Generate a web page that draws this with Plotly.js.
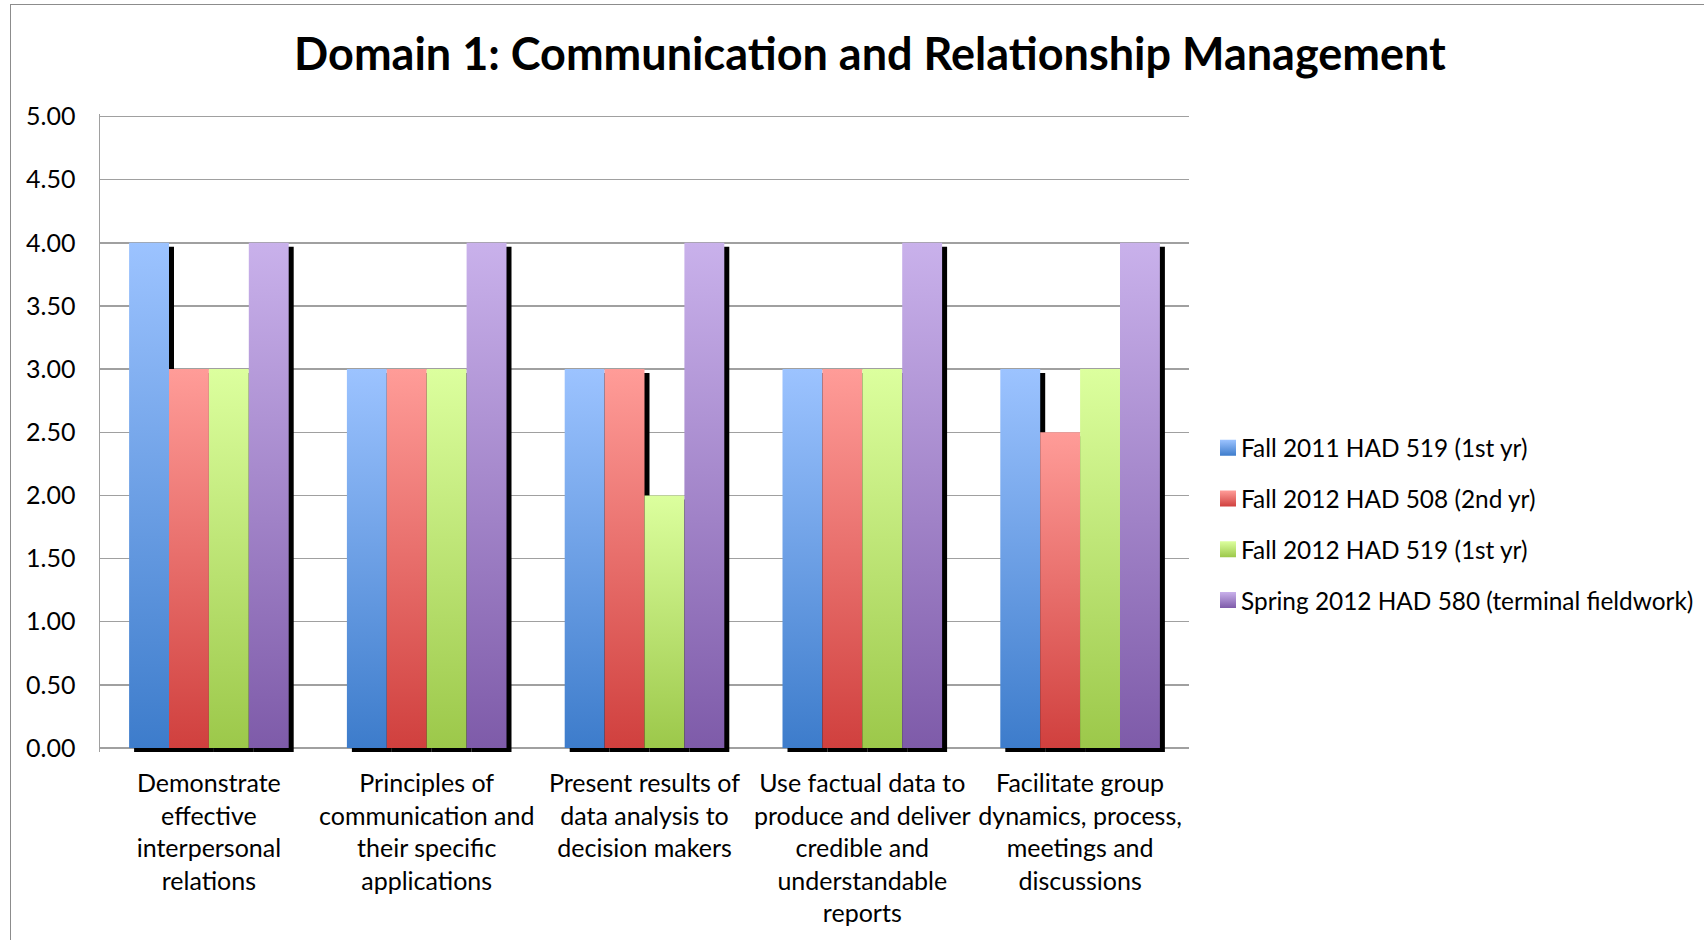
<!DOCTYPE html>
<html>
<head>
<meta charset="utf-8">
<script src="https://cdn.plot.ly/plotly-3.0.1.min.js"></script>
<style>
  html, body { margin: 0; padding: 0; background: #fff; }
  #wrap { position: relative; width: 1704px; height: 940px; overflow: hidden; }
  #chart { width: 1704px; height: 940px; }
  #frame { position: absolute; left: 10px; top: 4px; width: 1720px; height: 960px;
           border-left: 1.5px solid #8c8c8c; border-top: 1.5px solid #8c8c8c; pointer-events: none; }
</style>
</head>
<body>
<div id="wrap">
  <div id="chart"></div>
  <div id="frame"></div>
</div>
<script>
// ---- data ----
var categories = [
  "Demonstrate<br>effective<br>interpersonal<br>relations",
  "Principles of<br>communication and<br>their specific<br>applications",
  "Present results of<br>data analysis to<br>decision makers",
  "Use factual data to<br>produce and deliver<br>credible and<br>understandable<br>reports",
  "Facilitate group<br>dynamics, process,<br>meetings and<br>discussions"
];
var seriesNames = [
  "Fall 2011 HAD 519 (1st yr)",
  "Fall 2012 HAD 508 (2nd yr)",
  "Fall 2012 HAD 519 (1st yr)",
  "Spring 2012 HAD 580 (terminal fieldwork)"
];
var fall2011_519 = [4, 3, 3, 3, 3];
var fall2012_508 = [3, 3, 3, 3, 2.5];
var fall2012_519 = [3, 3, 2, 3, 3];
var spring2012_580 = [4, 4, 4, 4, 4];
var yTickVals = [0, 0.5, 1, 1.5, 2, 2.5, 3, 3.5, 4, 4.5, 5];

// ---- styling ----
var seriesValues = [fall2011_519, fall2012_508, fall2012_519, spring2012_580];
var gradients = [
  ["#9cc3ff", "#3d7ccb"],
  ["#ff9c98", "#d0403e"],
  ["#dcff9e", "#9cc84a"],
  ["#c9b1eb", "#7e5ba9"]
];
var FONT = "Lato, 'Open Sans', sans-serif";
var plotW = 1089;           // px width of plot area
var catPx = plotW / 5;      // px per category
var barW = 39.9 / catPx;    // bar width in category units
var shadowDx = 5 / catPx;   // shadow offset right
var yRange = [-0.0317, 5.02];
var zeroPx = 747.7, fivePx = 116.3;
var pxPerUnit = (zeroPx - fivePx) / 5;
var topPx = fivePx - (yRange[1] - 5) * pxPerUnit;
var botPx = zeroPx - yRange[0] * pxPerUnit;
var shadowDy = 4 / pxPerUnit;

var traces = [];
// shadows first (drawn underneath)
seriesValues.forEach(function (vals, i) {
  traces.push({
    type: "bar", x: categories, y: vals,
    base: -shadowDy,
    width: barW, offset: -2 * barW + i * barW + shadowDx,
    marker: { color: "#000000", line: { width: 0 } },
    showlegend: false, hoverinfo: "skip"
  });
});
seriesValues.forEach(function (vals, i) {
  traces.push({
    type: "bar", name: seriesNames[i], x: categories, y: vals,
    width: barW, offset: -2 * barW + i * barW,
    marker: { color: gradients[i][1], line: { width: 0 } },
    legendgroup: "g" + i
  });
});

var layout = {
  width: 1704, height: 940,
  paper_bgcolor: "#ffffff", plot_bgcolor: "#ffffff",
  margin: { l: 100, r: 1704 - 100 - plotW, t: topPx, b: 940 - botPx },
  barmode: "overlay",
  font: { family: FONT, color: "#000000", size: 25 },
  title: {
    text: "<b>Domain 1: Communication and Relationship Management</b>",
    font: { family: FONT, size: 45, color: "#000000" },
    xref: "container", x: 870 / 1704, xanchor: "center",
    yref: "container", y: 1 - 54 / 940, yanchor: "middle"
  },
  xaxis: {
    type: "category", range: [-0.5, 4.5],
    showgrid: false, zeroline: false,
    showline: false, ticks: "",
    tickfont: { family: FONT, size: 25, color: "#000000" },
    tickangle: 0, automargin: false,
    ticklabelstandoff: 14
  },
  yaxis: {
    range: yRange, tickvals: yTickVals, tickformat: ".2f",
    showgrid: true, gridcolor: "#a0a0a0", gridwidth: 1.5,
    zeroline: true, zerolinecolor: "#a0a0a0", zerolinewidth: 1.5,
    showline: true, linecolor: "#a0a0a0", linewidth: 1.5,
    ticks: "", ticklabelstandoff: 18,
    tickfont: { family: FONT, size: 25, color: "#000000" },
    automargin: false, fixedrange: true
  },
  legend: {
    xref: "container", x: 1201 / 1704, xanchor: "left",
    yref: "container", y: 1 - 524 / 940, yanchor: "middle",
    font: { family: FONT, size: 24.4, color: "#000000" },
    traceorder: "grouped", tracegroupgap: 16,
    bgcolor: "rgba(0,0,0,0)"
  },
  showlegend: true
};

Plotly.newPlot("chart", traces, layout, { staticPlot: true, displayModeBar: false }).then(function (gd) {
  var svg = gd.querySelector("svg.main-svg");
  var ns = "http://www.w3.org/2000/svg";
  var defs = svg.querySelector("defs") || svg.insertBefore(document.createElementNS(ns, "defs"), svg.firstChild);
  gradients.forEach(function (g, i) {
    var lg = document.createElementNS(ns, "linearGradient");
    lg.setAttribute("id", "barGrad" + i);
    lg.setAttribute("x1", "0"); lg.setAttribute("y1", "0");
    lg.setAttribute("x2", "0"); lg.setAttribute("y2", "1");
    [[0, g[0]], [1, g[1]]].forEach(function (s) {
      var st = document.createElementNS(ns, "stop");
      st.setAttribute("offset", s[0]);
      st.setAttribute("stop-color", s[1]);
      lg.appendChild(st);
    });
    defs.appendChild(lg);
  });
  var barTraces = gd.querySelectorAll(".barlayer .trace");
  barTraces.forEach(function (tr, k) {
    if (k < 4) return;
    var i = k - 4;
    tr.querySelectorAll("path").forEach(function (p) { p.style.fill = "url(#barGrad" + i + ")"; });
  });
  var legItems = gd.querySelectorAll(".legend .traces");
  legItems.forEach(function (it, i) {
    it.querySelectorAll(".legendpoints path").forEach(function (p) {
      p.setAttribute("d", "M15,8H-1V-8H15Z");
      p.style.fill = "url(#barGrad" + i + ")";
      p.style.stroke = "none";
    });
  });
});
</script>
</body>
</html>
